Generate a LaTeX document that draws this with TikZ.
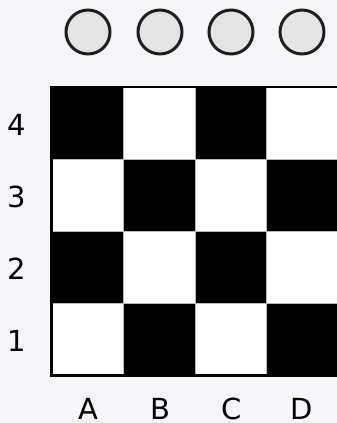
\documentclass[tikz,border=0pt]{standalone}
\usepackage{fontspec}
\newfontfamily\lblfont{DejaVu Sans}
\usetikzlibrary{fit}
\begin{document}
\begin{tikzpicture}[x=1pt,y=-1pt,
  cellbox/.style={minimum width=71.5pt,minimum height=72pt,inner sep=0pt,draw=gray!55,line width=0.8pt,anchor=north west},
  blackcell/.style={cellbox,fill=black},
  whitecell/.style={cellbox,fill=white},
  disc/.style={circle,minimum size=44pt,inner sep=0pt,draw=black!88,line width=3pt,fill=black!10},
  lbl/.style={font=\fontsize{29}{32}\lblfont,inner sep=0pt,anchor=base,text depth=0pt}]
\fill[fill={rgb,255:red,244;green,246;blue,250}] (0,0) rectangle (337,423);
\useasboundingbox (0,0) rectangle (337,423);
% discs
\node[disc] (p1) at (88,32) {};
\node[disc] (p2) at (160,32) {};
\node[disc] (p3) at (231,32) {};
\node[disc] (p4) at (302,32) {};
% board cells
\foreach \c/\col [count=\i from 0] in {A/a,B/b,C/c,D/d}{
  \foreach \r [count=\j from 0] in {4,3,2,1}{
    \pgfmathtruncatemacro{\parity}{mod(\i+\j,2)}
    \ifnum\parity=0
      \node[blackcell] (\col\r) at (51.5+71.5*\i,87+72*\j) {};
    \else
      \node[whitecell] (\col\r) at (51.5+71.5*\i,87+72*\j) {};
    \fi
  }
}
\node[draw=black,line width=2.8pt,fit=(a4)(d1),inner sep=0pt] (board) {};
% row labels
\node[lbl] (r4) at (17,135) {4};
\node[lbl] (r3) at (17,207) {3};
\node[lbl] (r2) at (17,279) {2};
\node[lbl] (r1) at (17,351) {1};
% column labels
\node[lbl] (ca) at (88,419) {A};
\node[lbl] (cb) at (160,419) {B};
\node[lbl] (cc) at (232,419) {C};
\node[lbl] (cd) at (302,419) {D};
\end{tikzpicture}
\end{document}
